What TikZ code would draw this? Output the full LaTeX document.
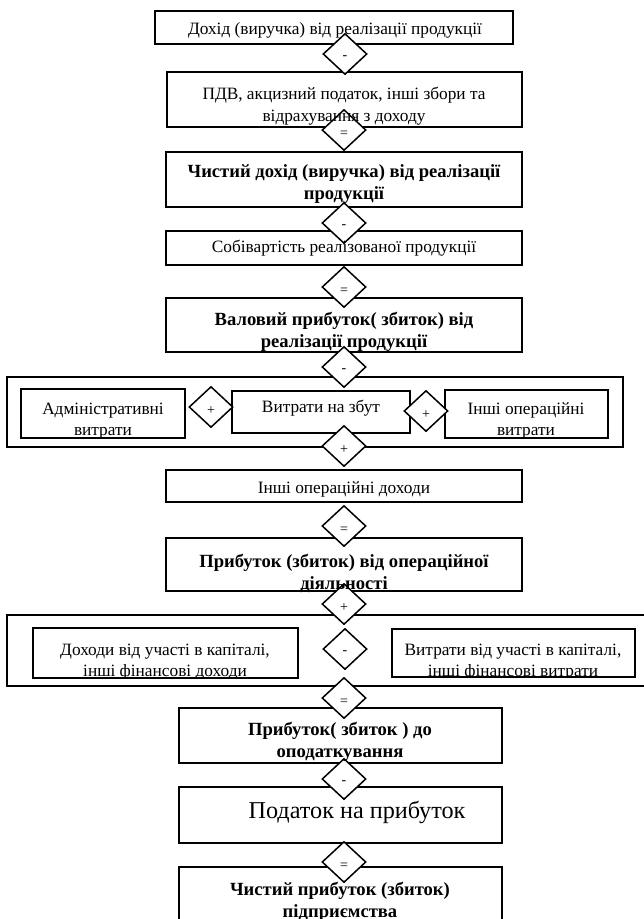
\documentclass[tikz,border=0pt]{standalone}
\usepackage{fontspec}
\setmainfont{Liberation Serif}
\usetikzlibrary{shapes.geometric}

\begin{document}
\begin{tikzpicture}[x=1pt, y=-1pt,
    frame/.style={line width=1.7pt},
    sign/.style={diamond, draw, line width=1.5pt, fill=white, minimum width=44pt, minimum height=41pt, inner sep=0pt},
    signtxt/.style={font=\fontsize{14}{15}\selectfont, yshift=-4pt},
    txt/.style={align=center, inner sep=0pt, font=\fontsize{17.3}{21.5}\selectfont},
    btxt/.style={align=center, inner sep=0pt, font=\fontsize{18.6}{22}\selectfont\bfseries},
    bigtxt/.style={align=center, inner sep=0pt, font=\fontsize{24.2}{28}\selectfont}]
    \useasboundingbox (0,0) rectangle (644,919);
    % frames
    \draw[frame] (155,11) rectangle (513,44);
    \draw[frame] (167,72) rectangle (522,127);
    \draw[frame] (166,152) rectangle (522,207);
    \draw[frame] (166,231) rectangle (522,265);
    \draw[frame] (166,298) rectangle (522,352);
    \draw[frame] (7,377) rectangle (623,447);
    \draw[frame] (21,389) rectangle (185,438);
    \draw[frame] (232,391) rectangle (410,433);
    \draw[frame] (445,390) rectangle (608,438);
    \draw[frame] (166,470) rectangle (522,502);
    \draw[frame] (166,538) rectangle (522,591);
    \draw[frame] (7,615) rectangle (650,686);
    \draw[frame] (33,628) rectangle (298,678);
    \draw[frame] (392,629) rectangle (635,677);
    \draw[frame] (179,708) rectangle (502,763);
    \draw[frame] (179,787) rectangle (502,843);
    \draw[frame] (179,867) rectangle (502,930);
    % signs
    \node[sign, label={[signtxt]center:-}] (s1) at (345,54) {};
    \node[sign, label={[signtxt]center:=}] (s2) at (344,130) {};
    \node[sign, label={[signtxt]center:-}] (s3) at (344,223) {};
    \node[sign, label={[signtxt]center:=}] (s4) at (344,287) {};
    \node[sign, label={[signtxt]center:-}] (s5) at (344,367) {};
    \node[sign, label={[signtxt]center:+}] (s6) at (211,407) {};
    \node[sign, label={[signtxt]center:+}] (s7) at (426,411) {};
    \node[sign, label={[signtxt]center:+}] (s8) at (344,446) {};
    \node[sign, label={[signtxt]center:=}] (s9) at (344,526) {};
    \node[sign, label={[signtxt]center:+}] (s10) at (344,604) {};
    \node[sign, label={[signtxt]center:-}] (s11) at (345,649) {};
    \node[sign, label={[signtxt]center:=}] (s12) at (344,698) {};
    \node[sign, label={[signtxt]center:-}] (s13) at (344,779) {};
    \node[sign, label={[signtxt]center:=}] (s14) at (344,862) {};
    % texts
    \node[txt] (inc) at (335,30) {Дохід (виручка) від реалізації продукції};
    \node[txt] (vat) at (344,106) {ПДВ, акцизний податок, інші збори та\\відрахування з доходу};
    \node[btxt] (netinc) at (344,184) {Чистий дохід (виручка) від реалізації\\продукції};
    \node[txt] (cost) at (344,248) {Собівартість реалізованої продукції};
    \begin{scope}
        \clip (166,298) rectangle (522,352);
        \node[btxt] (gross) at (344,332) {Валовий прибуток( збиток) від\\реалізації продукції};
    \end{scope}
    \begin{scope}
        \clip (21,389) rectangle (185,438);
        \node[txt] (adm) at (103,421) {Адміністративні\\витрати};
    \end{scope}
    \node[txt] (sale) at (321,408) {Витрати на збут};
    \begin{scope}
        \clip (445,390) rectangle (608,438);
        \node[txt] (oexp) at (526,421) {Інші операційні\\витрати};
    \end{scope}
    \node[txt] (oinc) at (344,489) {Інші операційні доходи};
    \node[btxt] (opprof) at (344,573) {Прибуток (збиток) від операційної\\діяльності};
    \begin{scope}
        \clip (33,628) rectangle (298,678);
        \node[txt] (finc) at (165,662) {Доходи від участі в капіталі,\\інші фінансові доходи};
    \end{scope}
    \begin{scope}
        \clip (392,629) rectangle (635,677);
        \node[txt] (fexp) at (513,662) {Витрати від участі в капіталі,\\інші фінансові витрати};
    \end{scope}
    \begin{scope}
        \clip (179,708) rectangle (502,763);
        \node[btxt] (pbt) at (340,742) {Прибуток( збиток ) до\\оподаткування};
    \end{scope}
    \node[bigtxt] (tax) at (357,812) {Податок на прибуток};
    \node[btxt] (net) at (340,902) {Чистий прибуток (збиток)\\підприємства};
\end{tikzpicture}
\end{document}
